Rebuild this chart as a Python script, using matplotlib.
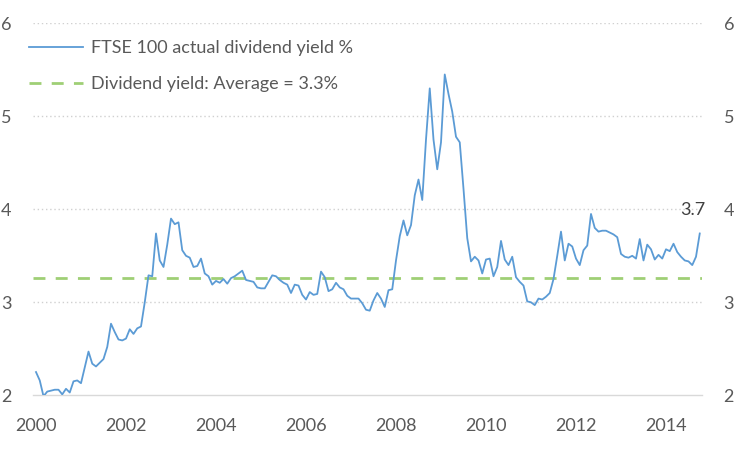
import numpy as np
import matplotlib
matplotlib.use("Agg")
import matplotlib.pyplot as plt

# Monthly FTSE 100 dividend yield (%), Jan 2000 .. Oct 2014
yield_pct = [
    2.25, 2.16, 1.99, 2.04, 2.05, 2.06, 2.06, 2.01, 2.07, 2.03, 2.15, 2.16,
    2.13, 2.30, 2.47, 2.34, 2.31, 2.35, 2.39, 2.52, 2.77, 2.68, 2.60, 2.59,
    2.61, 2.71, 2.66, 2.72, 2.74, 3.00, 3.29, 3.28, 3.74, 3.45, 3.38, 3.62,
    3.90, 3.84, 3.86, 3.56, 3.50, 3.48, 3.38, 3.39, 3.47, 3.31, 3.28, 3.19,
    3.23, 3.21, 3.25, 3.20, 3.26, 3.28, 3.31, 3.34, 3.24, 3.23, 3.22, 3.16,
    3.15, 3.15, 3.22, 3.29, 3.28, 3.24, 3.21, 3.19, 3.10, 3.19, 3.18, 3.08,
    3.03, 3.11, 3.08, 3.09, 3.33, 3.27, 3.12, 3.14, 3.21, 3.16, 3.14, 3.07,
    3.04, 3.04, 3.04, 2.99, 2.92, 2.91, 3.02, 3.10, 3.04, 2.95, 3.13, 3.14,
    3.45, 3.71, 3.88, 3.72, 3.83, 4.15, 4.32, 4.10, 4.75, 5.30, 4.75, 4.43,
    4.72, 5.45, 5.24, 5.05, 4.78, 4.72, 4.22, 3.69, 3.44, 3.49, 3.45, 3.31,
    3.46, 3.47, 3.28, 3.38, 3.66, 3.46, 3.40, 3.49, 3.27, 3.22, 3.18, 3.01,
    3.00, 2.97, 3.04, 3.03, 3.06, 3.10, 3.25, 3.50, 3.76, 3.45, 3.63, 3.60,
    3.47, 3.40, 3.56, 3.61, 3.95, 3.80, 3.76, 3.77, 3.77, 3.75, 3.73, 3.70,
    3.52, 3.49, 3.48, 3.50, 3.47, 3.68, 3.45, 3.62, 3.57, 3.46, 3.51, 3.47,
    3.57, 3.55, 3.63, 3.54, 3.49, 3.45, 3.44, 3.40, 3.49, 3.74,
]
start_year = 2000
average_yield = 3.26
series_label = "FTSE 100 actual dividend yield %"
average_label = "Dividend yield: Average = 3.3%"
year_ticks = [2000, 2002, 2004, 2006, 2008, 2010, 2012, 2014]
y_ticks = [2, 3, 4, 5, 6]

t = start_year + np.arange(len(yield_pct)) / 12.0

plt.rcParams['font.family'] = ['Lato', 'DejaVu Sans']
W, H = 736, 462
fig = plt.figure(figsize=(W / 100, H / 100), dpi=100)
left, right, top, bottom = 33, 702, 23.3, 395.3
ax = fig.add_axes([left / W, 1 - bottom / H, (right - left) / W, (bottom - top) / H])

ax.set_xlim(start_year - 0.8 / 12, start_year + 177.6 / 12)
ax.set_ylim(2, 6)

grid_c = '#D0D0D0'
for v in y_ticks[1:]:
    ax.axhline(v, color=grid_c, lw=1.0, ls=(0, (1, 2)), zorder=1)
for s in ['top', 'left', 'right']:
    ax.spines[s].set_visible(False)
ax.spines['bottom'].set_color('#D9D9D9')
ax.spines['bottom'].set_linewidth(1.0)

ax.axhline(average_yield, color='#9FCF75', lw=2.0, ls=(0, (4.3, 3.7)),
           zorder=2, label=average_label)
ax.plot(t, yield_pct, color='#5B9BD5', lw=1.3, zorder=3, label=series_label)

fs = 13
ax.set_yticks(y_ticks)
ax.set_yticklabels([str(v) for v in y_ticks])
ax.set_xticks(year_ticks)
ax.set_xticklabels([str(y) for y in year_ticks])
txt_c = '#595959'
ax.tick_params(axis='y', left=False, right=False, labelleft=True, labelright=True,
               labelsize=fs, colors=txt_c, pad=12)
ax.tick_params(axis='x', bottom=False, labelsize=fs, colors=txt_c, pad=13)

ax.annotate(f"{yield_pct[-1]:.1f}", xy=(t[-1], yield_pct[-1]), xytext=(-7, 23),
            textcoords='offset pixels', ha='center', va='center',
            fontsize=fs, color='#404040')

handles, labels = ax.get_legend_handles_labels()
order = [1, 0]
leg = ax.legend([handles[i] for i in order], [labels[i] for i in order],
                loc='upper left', bbox_to_anchor=(29 / W, 1 - 40 / H),
                bbox_transform=fig.transFigure, frameon=False, fontsize=fs,
                handlelength=3.0, handletextpad=0.42, labelspacing=1.1,
                borderpad=0, borderaxespad=0)
for tx in leg.get_texts():
    tx.set_color(txt_c)

fig.savefig('out.png', dpi=100)
